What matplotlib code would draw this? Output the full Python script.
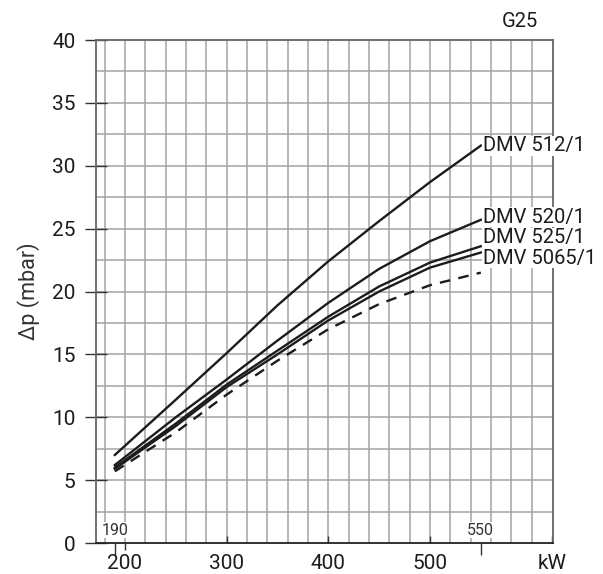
import matplotlib.pyplot as plt
import numpy as np

plt.rcParams['font.family'] = ['Roboto', 'DejaVu Sans']

# flow rate (kW) and pressure drop (mbar)
kw = [190, 250, 300, 350, 400, 450, 500, 550]
dmv512 = [7.0, 11.4, 15.1, 18.9, 22.4, 25.6, 28.7, 31.6]
dmv520 = [6.2, 10.0, 13.0, 16.1, 19.1, 21.8, 24.0, 25.7]
dmv525 = [6.0, 9.5, 12.6, 15.3, 18.0, 20.4, 22.3, 23.6]
dmv5065 = [5.9, 9.3, 12.4, 15.0, 17.7, 20.0, 21.9, 23.1]
dashed = [5.7, 8.8, 11.8, 14.5, 17.0, 19.0, 20.5, 21.5]

names = ['DMV 512/1', 'DMV 520/1', 'DMV 525/1', 'DMV 5065/1']
series = [dmv512, dmv520, dmv525, dmv5065]
label_dy = [0, 2, 6, -4]   # points, to keep labels apart

xticks = [300, 400, 500, 620]
xticklabels = ['300', '400', '500', 'kW']

fig = plt.figure(figsize=(6.03, 5.74), dpi=100)
ax = fig.add_axes([0.1592, 0.054, 0.7579, 0.8763])

ink = '#1c1c1c'
gridc = '#a3a3a3'

# grid, every 20 kW / 2.5 mbar
for gx in np.arange(180, 601, 20):
    ax.axvline(gx, color=gridc, lw=1.1, zorder=0)
for gy in np.arange(2.5, 40, 2.5):
    ax.axhline(gy, color=gridc, lw=1.1, zorder=0)

for name, vals, dy in zip(names, series, label_dy):
    ax.plot(kw, vals, color=ink, lw=1.7, zorder=3)
    ax.annotate(name, xy=(kw[-1], vals[-1]), xytext=(1.5, dy),
                textcoords='offset points', ha='left', va='center',
                fontsize=14.5, color=ink, zorder=5,
                bbox=dict(fc='white', ec='none', pad=0.5))
ax.plot(kw, dashed, color=ink, lw=1.7, dashes=(4.5, 3.5), zorder=3)

ax.set_xlim(171.5, 621)
ax.set_ylim(0, 40)

ax.set_yticks(np.arange(0, 41, 5))
ax.tick_params(axis='y', direction='inout', length=15.5, width=1,
               color='#333333', labelsize=15, pad=7, labelcolor=ink)
ax.set_xticks(xticks)
ax.set_xticklabels(xticklabels)
ax.tick_params(axis='x', direction='in', length=5, width=1,
               color='#333333', labelsize=15, pad=8, labelcolor=ink)

# outward marks at 190 / 200 / 550 and the bottom labels
sec = ax.secondary_xaxis('bottom')
sec.set_xticks([190, 550])
sec.set_xticks([200], minor=True)
sec.set_xticklabels(['', ''])
sec.tick_params(which='major', direction='out', length=8.5, width=1,
                color='#333333')
sec.tick_params(which='minor', direction='out', length=5, width=1,
                color='#333333', labelbottom=False)
sec.spines['bottom'].set_visible(False)
sec2 = ax.secondary_xaxis('bottom')
sec2.set_xticks([200])
sec2.set_xticklabels(['200'])
sec2.tick_params(length=0, labelsize=15, pad=8, labelcolor=ink)
sec2.spines['bottom'].set_visible(False)

for v in [190, 550]:
    ax.text(v, 0.4, str(v), ha='center', va='bottom', fontsize=11.5,
            color='#333333', zorder=4,
            bbox=dict(fc='white', ec='none', pad=0.3))

for s in ['left', 'top', 'right']:
    ax.spines[s].set_color('#666666')
    ax.spines[s].set_linewidth(1.3)
ax.spines['bottom'].set_color('#222222')
ax.spines['bottom'].set_linewidth(1.3)

ax.set_ylabel('Δp (mbar)', fontsize=15.5, color='#333333', labelpad=9)
fig.text(0.862, 0.963, 'G25', ha='center', va='center', fontsize=14.5,
         color=ink)

fig.savefig('out.png', dpi=100)
